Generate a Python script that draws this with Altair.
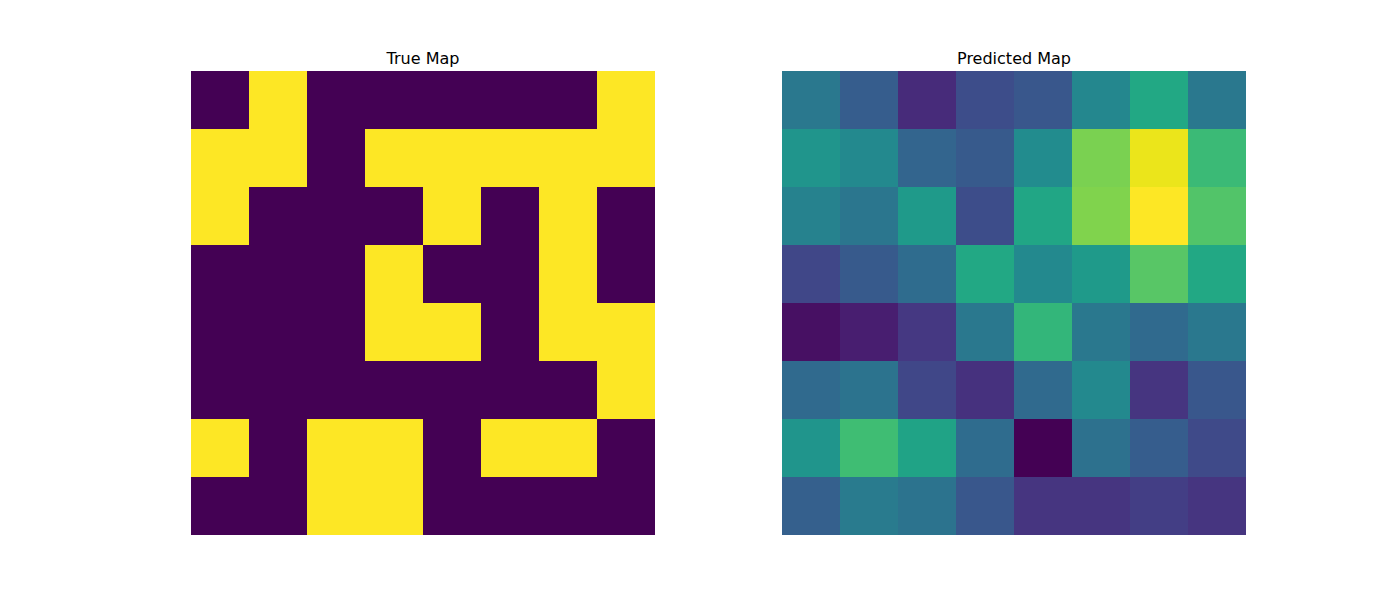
import altair as alt
import pandas as pd

true_map = [
    [0, 1, 0, 0, 0, 0, 0, 1],
    [1, 1, 0, 1, 1, 1, 1, 1],
    [1, 0, 0, 0, 1, 0, 1, 0],
    [0, 0, 0, 1, 0, 0, 1, 0],
    [0, 0, 0, 1, 1, 0, 1, 1],
    [0, 0, 0, 0, 0, 0, 0, 1],
    [1, 0, 1, 1, 0, 1, 1, 0],
    [0, 0, 1, 1, 0, 0, 0, 0],
]

pred_map = [
    [0.40, 0.29, 0.12, 0.23, 0.27, 0.46, 0.60, 0.40],
    [0.52, 0.47, 0.32, 0.28, 0.48, 0.80, 0.97, 0.68],
    [0.44, 0.39, 0.54, 0.23, 0.59, 0.81, 1.00, 0.73],
    [0.21, 0.28, 0.35, 0.60, 0.47, 0.54, 0.74, 0.60],
    [0.04, 0.08, 0.16, 0.40, 0.66, 0.40, 0.34, 0.40],
    [0.34, 0.38, 0.21, 0.14, 0.34, 0.47, 0.15, 0.27],
    [0.52, 0.69, 0.58, 0.35, 0.00, 0.37, 0.29, 0.22],
    [0.30, 0.41, 0.38, 0.27, 0.15, 0.15, 0.18, 0.15],
]


def to_df(m):
    rows = []
    for r, row in enumerate(m):
        for c, v in enumerate(row):
            rows.append({"row": r, "col": c, "value": v})
    return pd.DataFrame(rows)


def panel(m, title):
    cscale = alt.Scale(scheme="viridis", domain=[0, 1])
    return (
        alt.Chart(to_df(m), title=alt.Title(title, font="DejaVu Sans", fontSize=16,
                                               fontWeight="normal", color="black", offset=4))
        .mark_rect()
        .encode(
            x=alt.X("col:O", axis=None, scale=alt.Scale(padding=0, paddingInner=0, paddingOuter=0)),
            y=alt.Y("row:O", axis=None, scale=alt.Scale(padding=0, paddingInner=0, paddingOuter=0)),
            color=alt.Color("value:Q", scale=cscale, legend=None),
        )
        .properties(width=464, height=464)
    )


chart = (
    alt.hconcat(panel(true_map, "True Map"), panel(pred_map, "Predicted Map"), spacing=127)
    .properties(padding={"left": 183, "top": 43, "right": 0, "bottom": 0})
    .configure_view(stroke=None)
)

chart.save("out.html", embed_options={"renderer": "svg", "actions": False})
